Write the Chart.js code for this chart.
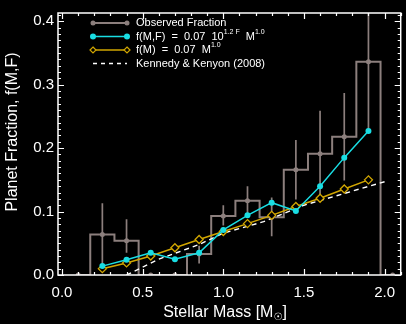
<!DOCTYPE html>
<html>
<head>
<meta charset="utf-8">
<script src="https://cdn.jsdelivr.net/npm/chart.js@4"></script>
<style>
  html, body { margin: 0; padding: 0; background: #000; }
  canvas { display: block; }
</style>
</head>
<body>
<canvas id="chart" width="406" height="324"></canvas>
<script>
// observed planet fraction per stellar mass bin (bin width 0.15 Msun)
const binCenters = [0.1, 0.25, 0.4, 0.55, 0.7, 0.85, 1.0, 1.15, 1.3, 1.45, 1.6, 1.75, 1.9, 2.05];
const observedFraction = [0, 0.064, 0.054, 0, 0, 0.033, 0.093, 0.117, 0.091, 0.166, 0.191, 0.218, 0.336, 0];
// error bar ends (null = no bar)
const observedLow = [null, 0.015, 0.035, null, null, 0.018, 0.078, 0.094, 0.061, 0.119, 0.123, 0.149, 0.227, null];
const observedHigh = [null, 0.113, 0.088, null, null, 0.046, 0.110, 0.140, 0.122, 0.213, 0.259, 0.287, 0.450, null];

// model fits evaluated at the bin centers
const modelMass = [0.25, 0.4, 0.55, 0.7, 0.85, 1.0, 1.15, 1.3, 1.45, 1.6, 1.75, 1.9];
const fitMassMetal = [0.014, 0.024, 0.035, 0.025, 0.035, 0.071, 0.094, 0.114, 0.101, 0.140, 0.185, 0.227];
const fitMassOnly = [0.010, 0.019, 0.030, 0.043, 0.056, 0.0685, 0.081, 0.094, 0.108, 0.121, 0.1355, 0.150];

// Kennedy & Kenyon (2008) prediction
const kkMass = [0.4, 0.6, 0.85, 1.0, 1.25, 1.5, 2.0];
const kkFraction = [0.0, 0.025, 0.048, 0.066, 0.084, 0.110, 0.147];

const xTicks = [0, 0.5, 1.0, 1.5, 2.0];
const yTicks = [0, 0.1, 0.2, 0.3, 0.4];

const GRAY = "#8c7f7d";
const CYAN = "#19dde3";
const GOLD = "#d1a600";
const FONT = "'Liberation Sans', Arial, sans-serif";

const pairs = (xs, ys) => xs.map((x, i) => ({ x: x, y: ys[i] }));

// black page, white frame with inward ticks, error bars, legend, axis titles
const decorations = {
  id: "decorations",
  beforeDraw(chart) {
    const ctx = chart.ctx;
    ctx.save();
    ctx.fillStyle = "#000";
    ctx.fillRect(0, 0, chart.width, chart.height);
    ctx.restore();
  },
  beforeDatasetsDraw(chart) {
    const ctx = chart.ctx;
    const xs = chart.scales.x, ys = chart.scales.y;
    const area = chart.chartArea;
    ctx.save();
    ctx.beginPath();
    ctx.rect(area.left, area.top, area.right - area.left, area.bottom - area.top);
    ctx.clip();
    ctx.strokeStyle = GRAY;
    ctx.lineWidth = 1.7;
    binCenters.forEach((m, i) => {
      if (observedLow[i] === null) return;
      const px = xs.getPixelForValue(m);
      ctx.beginPath();
      ctx.moveTo(px, ys.getPixelForValue(observedLow[i]));
      ctx.lineTo(px, ys.getPixelForValue(observedHigh[i]));
      ctx.stroke();
    });
    ctx.restore();
  },
  afterDraw(chart) {
    const ctx = chart.ctx;
    const xs = chart.scales.x, ys = chart.scales.y;
    const { left, right, top, bottom } = chart.chartArea;

    ctx.save();
    ctx.strokeStyle = "#fff";
    ctx.lineWidth = 1.5;
    ctx.strokeRect(left, top, right - left, bottom - top);

    ctx.lineWidth = 1.2;
    ctx.beginPath();
    // x ticks every 0.1, major every 0.5
    for (let i = 0; i <= 21; i++) {
      const px = Math.round(xs.getPixelForValue(i / 10)) + 0.5;
      const len = i % 5 === 0 ? 6 : 3;
      ctx.moveTo(px, bottom); ctx.lineTo(px, bottom - len);
      ctx.moveTo(px, top); ctx.lineTo(px, top + len);
    }
    // y ticks every 0.01, major every 0.1
    for (let i = 0; i <= 41; i++) {
      const py = Math.round(ys.getPixelForValue(i / 100)) + 0.5;
      const len = i % 10 === 0 ? 6 : 3;
      ctx.moveTo(left, py); ctx.lineTo(left + len, py);
      ctx.moveTo(right, py); ctx.lineTo(right - len, py);
    }
    ctx.stroke();

    // y title
    ctx.fillStyle = "#fff";
    ctx.font = "16px " + FONT;
    ctx.textAlign = "center";
    ctx.textBaseline = "middle";
    ctx.translate(13, 132);
    ctx.rotate(-Math.PI / 2);
    ctx.fillText("Planet Fraction, f(M,F)", 0, 0);
    ctx.restore();

    // x title with subscript sun symbol
    ctx.save();
    ctx.fillStyle = "#fff";
    ctx.textBaseline = "alphabetic";
    const main = "Stellar Mass [M";
    ctx.font = "16px " + FONT;
    const w1 = ctx.measureText(main).width;
    const w3 = ctx.measureText("]").width;
    ctx.font = "10px 'DejaVu Sans', sans-serif";
    const w2 = ctx.measureText("☉").width;
    let tx = 225 - (w1 + w2 + w3) / 2;
    const base = 317;
    ctx.font = "16px " + FONT;
    ctx.fillText(main, tx, base);
    tx += w1;
    ctx.font = "10px 'DejaVu Sans', sans-serif";
    ctx.fillText("☉", tx, base + 3);
    tx += w2;
    ctx.font = "16px " + FONT;
    ctx.fillText("]", tx, base);
    ctx.restore();

    drawLegend(ctx);
  }
};

function drawText(ctx, parts, x, y) {
  // parts: [text, superscript?]
  for (const [t, sup] of parts) {
    ctx.font = (sup ? "7px " : "11px ") + FONT;
    ctx.fillText(t, x, sup ? y - 4.5 : y);
    x += ctx.measureText(t).width;
  }
}

function drawLegend(ctx) {
  const x0 = 93, x1 = 127, tx = 136;
  const rows = [23, 36.5, 50, 63.5];
  ctx.save();
  ctx.textBaseline = "middle";
  ctx.fillStyle = "#fff";

  // observed
  ctx.strokeStyle = GRAY; ctx.fillStyle = GRAY; ctx.lineWidth = 2;
  ctx.beginPath(); ctx.moveTo(x0, rows[0]); ctx.lineTo(x1, rows[0]); ctx.stroke();
  for (const px of [x0, x1]) { ctx.beginPath(); ctx.arc(px, rows[0], 2.5, 0, 2 * Math.PI); ctx.fill(); }

  // f(M,F)
  ctx.strokeStyle = CYAN; ctx.fillStyle = CYAN; ctx.lineWidth = 1.5;
  ctx.beginPath(); ctx.moveTo(x0, rows[1]); ctx.lineTo(x1, rows[1]); ctx.stroke();
  for (const px of [x0, x1]) { ctx.beginPath(); ctx.arc(px, rows[1], 3, 0, 2 * Math.PI); ctx.fill(); }

  // f(M)
  ctx.strokeStyle = GOLD; ctx.lineWidth = 1.5;
  ctx.beginPath(); ctx.moveTo(x0, rows[2]); ctx.lineTo(x1, rows[2]); ctx.stroke();
  ctx.fillStyle = "#000"; ctx.lineWidth = 1.2;
  for (const px of [x0, x1]) {
    ctx.beginPath();
    ctx.moveTo(px, rows[2] - 3); ctx.lineTo(px + 3, rows[2]);
    ctx.lineTo(px, rows[2] + 3); ctx.lineTo(px - 3, rows[2]);
    ctx.closePath(); ctx.fill(); ctx.stroke();
  }

  // Kennedy & Kenyon
  ctx.strokeStyle = "#fff"; ctx.lineWidth = 1.3;
  ctx.setLineDash([4, 4]);
  ctx.beginPath(); ctx.moveTo(x0, rows[3]); ctx.lineTo(x1, rows[3]); ctx.stroke();
  ctx.setLineDash([]);

  ctx.fillStyle = "#fff";
  drawText(ctx, [["Observed Fraction", false]], tx, rows[0]);
  drawText(ctx, [["f(M,F)  =  0.07  10", false], ["1.2 F", true], ["  M", false], ["1.0", true]], tx, rows[1]);
  drawText(ctx, [["f(M)  =  0.07  M", false], ["1.0", true]], tx, rows[2]);
  drawText(ctx, [["Kennedy & Kenyon (2008)", false]], tx, rows[3]);
  ctx.restore();
}

new Chart(document.getElementById("chart"), {
  type: "line",
  data: {
    datasets: [
      {
        label: "Observed Fraction",
        data: pairs(binCenters, observedFraction),
        stepped: "middle",
        borderColor: GRAY,
        backgroundColor: GRAY,
        borderWidth: 2,
        pointRadius: 2.5,
        pointBorderWidth: 0,
        order: 4,
      },
      {
        label: "Kennedy & Kenyon (2008)",
        data: pairs(kkMass, kkFraction),
        borderColor: "#fff",
        borderWidth: 1.4,
        borderDash: [5, 4],
        pointRadius: 0,
        order: 3,
      },
      {
        label: "f(M)",
        data: pairs(modelMass, fitMassOnly),
        borderColor: GOLD,
        backgroundColor: "#000",
        borderWidth: 1.5,
        pointStyle: "rectRot",
        pointRadius: 4,
        pointBorderWidth: 1.3,
        order: 2,
      },
      {
        label: "f(M,F)",
        data: pairs(modelMass, fitMassMetal),
        borderColor: CYAN,
        backgroundColor: CYAN,
        borderWidth: 1.5,
        pointRadius: 3,
        pointBorderWidth: 0,
        order: 1,
      },
    ],
  },
  options: {
    responsive: false,
    animation: false,
    layout: { padding: { top: 4, right: 3, left: 0, bottom: 0 } },
    plugins: { legend: { display: false }, tooltip: { enabled: false } },
    scales: {
      x: {
        type: "linear",
        min: -0.025,
        max: 2.1,
        afterBuildTicks: (s) => { s.ticks = xTicks.map((v) => ({ value: v })); },
        afterFit: (s) => { s.height = 49; },
        grid: { display: false, drawTicks: false },
        border: { display: false },
        ticks: {
          color: "#fff",
          font: { size: 15, family: FONT },
          padding: 9,
          maxRotation: 0,
          callback: (v) => v.toFixed(1),
        },
      },
      y: {
        type: "linear",
        min: 0,
        max: 0.413,
        afterBuildTicks: (s) => { s.ticks = yTicks.map((v) => ({ value: v })); },
        afterFit: (s) => { s.width = 58; },
        grid: { display: false, drawTicks: false },
        border: { display: false },
        ticks: {
          color: "#fff",
          font: { size: 15, family: FONT },
          padding: 4,
          callback: (v) => v.toFixed(1),
        },
      },
    },
  },
  plugins: [decorations],
});
</script>
</body>
</html>
